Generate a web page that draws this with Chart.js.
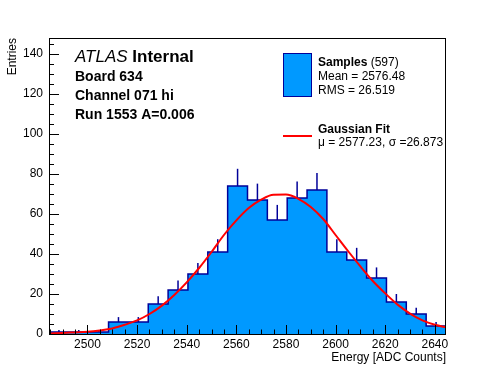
<!DOCTYPE html>
<html>
<head>
<meta charset="utf-8">
<script src="https://cdn.jsdelivr.net/npm/chart.js@4"></script>
<style>
  html, body { margin: 0; padding: 0; background: #fff; }
  #wrap { width: 496px; height: 372px; }
</style>
</head>
<body>
<div id="wrap"><canvas id="energyHist" width="496" height="372"></canvas></div>
<script>
// histogram: 20 bins, 8 ADC counts wide, first edge at 2484.5
const binLow = 2484.5;
const binWidth = 8;
const binCounts = [1, 1, 1, 6, 6, 15, 22, 30, 41, 74, 67, 57, 68, 72, 41, 37, 28, 16, 10, 4];

// gaussian fit curve
const fitX = [2485, 2490, 2495, 2500, 2505, 2510, 2515, 2520, 2525, 2530, 2535, 2540, 2545, 2550, 2555, 2560, 2565,
              2570, 2575, 2580, 2585, 2590, 2595, 2600, 2605, 2610, 2615, 2620, 2625, 2630, 2635, 2640, 2645];
const fitY = [0.3, 0.5, 0.8, 1.1, 1.8, 2.8, 4.6, 6.8, 10.0, 14.2, 19.5, 25.8, 33.0, 41.0, 49.5, 56.8, 63.0,
              67.2, 69.6, 69.7, 67.6, 63.5, 57.5, 49.5, 41.5, 33.8, 26.5, 20.3, 14.7, 10.2, 6.8, 4.6, 3.2];

// axis ticks
const xTicks = [2500, 2520, 2540, 2560, 2580, 2600, 2620, 2640];
const yTicks = [0, 20, 40, 60, 80, 100, 120, 140];
const yMax = 148;

// text on the plot
const infoLines = ['Board 634', 'Channel 071 hi', 'Run 1553 A=0.006'];
const sampleCount = '(597)';
const sampleStats = ['Mean = 2576.48', 'RMS = 26.519'];
const fitStats = 'μ = 2577.23, σ =26.873';

const fillColor = 'rgb(0, 153, 255)';
const edgeColor = '#000099';
const fitColor = '#ff0000';
const fontFamily = '"Liberation Sans", Arial, Helvetica, sans-serif';

const binHigh = binLow + binCounts.length * binWidth;

// outline of the histogram, closed down to zero at both ends
const histPoints = [{x: binLow, y: 0}];
binCounts.forEach((c, i) => histPoints.push({x: binLow + i * binWidth, y: c}));
histPoints.push({x: binHigh, y: binCounts[binCounts.length - 1]});
histPoints.push({x: binHigh, y: 0});

const fitPoints = fitX.map((x, i) => ({x: x, y: fitY[i]}));

function drawParts(ctx, parts, x, y) {
    parts.forEach(p => {
        ctx.font = p.font;
        ctx.fillText(p.text, x, y);
        x += ctx.measureText(p.text).width;
    });
}

const rootStyle = {
    id: 'rootStyle',
    // error bars, drawn right after the histogram so the fit stays on top
    afterDatasetDraw(chart, args) {
        if (chart.data.datasets[args.index].label !== 'Samples') return;
        const {ctx, chartArea, scales: {x, y}} = chart;
        ctx.save();
        ctx.beginPath();
        ctx.rect(chartArea.left, chartArea.top, chartArea.width, chartArea.height);
        ctx.clip();
        ctx.strokeStyle = edgeColor;
        ctx.lineWidth = 1.5;
        binCounts.forEach((c, i) => {
            if (!c) return;
            const px = x.getPixelForValue(binLow + (i + 0.5) * binWidth);
            ctx.beginPath();
            ctx.moveTo(px, y.getPixelForValue(c));
            ctx.lineTo(px, y.getPixelForValue(c + Math.sqrt(c)));
            ctx.stroke();
        });
        ctx.restore();
    },
    afterDatasetsDraw(chart) {
        const {ctx, chartArea: a, scales: {x, y}} = chart;
        ctx.save();
        ctx.strokeStyle = '#000';
        ctx.lineWidth = 1;
        ctx.strokeRect(a.left + 0.5, a.top + 0.5, a.right - a.left - 1, a.bottom - a.top);

        ctx.beginPath();
        // x axis ticks, pointing up into the frame
        for (let v = Math.ceil(binLow / 5) * 5; v < binHigh; v += 5) {
            const px = Math.round(x.getPixelForValue(v)) + 0.5;
            const len = xTicks.includes(v) ? 9 : 4.5;
            ctx.moveTo(px, a.bottom);
            ctx.lineTo(px, a.bottom - len);
        }
        // y axis ticks, pointing right
        for (let v = 0; v < yMax; v += 5) {
            const py = Math.round(y.getPixelForValue(v)) + 0.5;
            const len = yTicks.includes(v) ? 10 : 5;
            ctx.moveTo(a.left, py);
            ctx.lineTo(a.left + len, py);
        }
        ctx.stroke();
        ctx.restore();
    },
    afterDraw(chart) {
        const ctx = chart.ctx;
        ctx.save();
        ctx.fillStyle = '#000';
        ctx.textBaseline = 'alphabetic';

        drawParts(ctx, [
            {text: 'ATLAS ', font: 'italic 17px ' + fontFamily},
            {text: 'Internal', font: 'bold 17px ' + fontFamily}
        ], 75, 62);
        ctx.font = 'bold 14px ' + fontFamily;
        infoLines.forEach((t, i) => ctx.fillText(t, 75, 81 + i * 19));

        // legend
        ctx.fillStyle = fillColor;
        ctx.fillRect(283, 53, 29, 44);
        ctx.strokeStyle = edgeColor;
        ctx.lineWidth = 1;
        ctx.strokeRect(283.5, 53.5, 28, 43);

        ctx.fillStyle = '#000';
        drawParts(ctx, [
            {text: 'Samples ', font: 'bold 12px ' + fontFamily},
            {text: sampleCount, font: '12px ' + fontFamily}
        ], 318, 66);
        ctx.font = '12px ' + fontFamily;
        sampleStats.forEach((t, i) => ctx.fillText(t, 318, 80 + i * 14));

        ctx.strokeStyle = fitColor;
        ctx.lineWidth = 2;
        ctx.beginPath();
        ctx.moveTo(283, 136);
        ctx.lineTo(312, 136);
        ctx.stroke();

        ctx.font = 'bold 12px ' + fontFamily;
        ctx.fillText('Gaussian Fit', 318, 133);
        ctx.font = '12px ' + fontFamily;
        ctx.fillText(fitStats, 318, 146);
        ctx.restore();
    }
};

const histCtx = document.getElementById('energyHist').getContext('2d');

const energyHist = new Chart(histCtx, {
    type: 'line',
    data: {
        datasets: [{
            label: 'Samples',
            data: histPoints,
            stepped: 'before',
            fill: 'origin',
            backgroundColor: fillColor,
            borderColor: edgeColor,
            borderWidth: 1.5,
            pointRadius: 0,
            order: 2
        }, {
            label: 'Gaussian Fit',
            data: fitPoints,
            fill: false,
            borderColor: fitColor,
            borderWidth: 2,
            pointRadius: 0,
            cubicInterpolationMode: 'monotone',
            order: 1
        }]
    },
    options: {
        responsive: false,
        animation: false,
        devicePixelRatio: 1,
        layout: { padding: { top: 38, right: 50, left: 0, bottom: 0 } },
        plugins: {
            legend: { display: false },
            tooltip: { enabled: false }
        },
        scales: {
            x: {
                type: 'linear',
                min: binLow,
                max: binHigh,
                afterBuildTicks: (scale) => { scale.ticks = xTicks.map(v => ({value: v})); },
                afterFit: (scale) => { scale.height = 38; },
                grid: { display: false, drawTicks: false },
                border: { display: false },
                ticks: {
                    color: '#000',
                    font: { family: fontFamily, size: 12 },
                    padding: 3,
                    maxRotation: 0,
                    autoSkip: false,
                    callback: (v) => String(v)
                },
                title: {
                    display: true,
                    text: 'Energy [ADC Counts]',
                    align: 'end',
                    color: '#000',
                    font: { family: fontFamily, size: 12 },
                    padding: { top: 0, bottom: 7 }
                }
            },
            y: {
                type: 'linear',
                min: 0,
                max: yMax,
                afterBuildTicks: (scale) => { scale.ticks = yTicks.map(v => ({value: v})); },
                afterFit: (scale) => { scale.width = 49; },
                grid: { display: false, drawTicks: false },
                border: { display: false },
                ticks: {
                    color: '#000',
                    font: { family: fontFamily, size: 12 },
                    padding: 6,
                    callback: (v) => String(v)
                },
                title: {
                    display: true,
                    text: 'Entries',
                    align: 'end',
                    color: '#000',
                    font: { family: fontFamily, size: 12 },
                    padding: { top: 5, bottom: 0 }
                }
            }
        }
    },
    plugins: [rootStyle]
});
</script>
</body>
</html>
